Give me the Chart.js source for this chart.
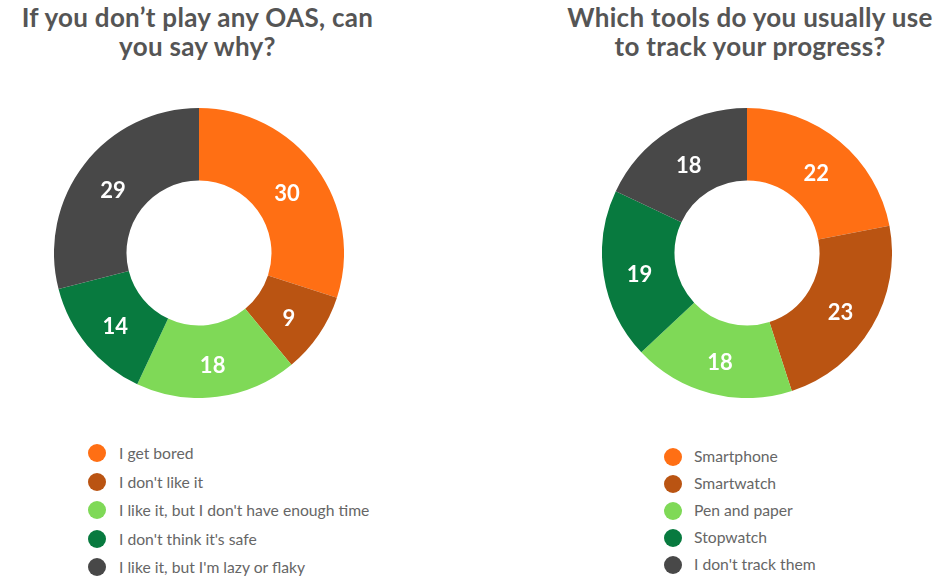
<!DOCTYPE html>
<html>
<head>
<meta charset="utf-8">
<script src="https://cdn.jsdelivr.net/npm/chart.js@4.4.1/dist/chart.umd.min.js"></script>
<style>
  body { margin: 0; background: #fff; font-family: Lato, "Open Sans", sans-serif; }
  #page { position: relative; width: 946px; height: 586px; overflow: hidden; }
  .title {
    position: absolute; top: 3px; margin: 0;
    font-size: 26px; font-weight: bold; line-height: 29px; letter-spacing: 0.3px;
    color: #555; text-align: center; white-space: nowrap;
  }
  canvas { position: absolute; }
  .legend { position: absolute; margin: 0; padding: 0; list-style: none; }
  .legend li { position: relative; font-size: 15.7px; color: #666; white-space: nowrap; }
  .legend .dot {
    position: absolute; left: 0; width: 18px; height: 18px; border-radius: 50%;
    top: 50%; margin-top: -9px;
  }
</style>
</head>
<body>
<div id="page">
  <h2 class="title" style="left:0; width:395px;">If you don’t play any OAS, can<br>you say why?</h2>
  <h2 class="title" style="left:560px; width:380px;">Which tools do you usually use<br>to track your progress?</h2>
  <canvas id="oasChart" width="290" height="290" style="left:54px; top:108px;"></canvas>
  <canvas id="trackChart" width="290" height="290" style="left:602px; top:108px;"></canvas>
  <ul class="legend" id="oasLegend" style="left:88px; top:439px;"></ul>
  <ul class="legend" id="trackLegend" style="left:664px; top:443px;"></ul>
</div>
<script>
const oasLabels = [
  "I get bored",
  "I don't like it",
  "I like it, but I don't have enough time",
  "I don't think it's safe",
  "I like it, but I'm lazy or flaky"
];
const oasValues = [30, 9, 18, 14, 29];

const trackLabels = [
  "Smartphone",
  "Smartwatch",
  "Pen and paper",
  "Stopwatch",
  "I don't track them"
];
const trackValues = [22, 23, 18, 19, 18];

const SLICE_COLORS = ['#FF6F14', '#BA5412', '#7FD957', '#087A3F', '#484848'];

// writes the value in the middle of each slice
const sliceValuePlugin = {
  id: 'sliceValues',
  afterDatasetsDraw(chart) {
    const ctx = chart.ctx;
    const values = chart.data.datasets[0].data;
    chart.getDatasetMeta(0).data.forEach((arc, i) => {
      const p = arc.tooltipPosition();
      ctx.save();
      ctx.fillStyle = '#fff';
      ctx.font = 'bold 22px Lato, sans-serif';
      ctx.textAlign = 'center';
      ctx.textBaseline = 'middle';
      // small nudge down, the numerals sit a bit low in the original
      ctx.fillText(values[i], p.x, p.y + 5);
      ctx.restore();
    });
  }
};

function CreateDoughnut(canvas, labels, values) {
  new Chart(canvas, {
    type: 'doughnut',
    data: {
      labels: labels,
      datasets: [{
        data: values,
        backgroundColor: SLICE_COLORS,
        borderWidth: 0
      }]
    },
    options: {
      responsive: false,
      maintainAspectRatio: false,
      animation: false,
      cutout: '50%',
      events: [],
      plugins: {
        legend: { display: false },
        tooltip: { enabled: false }
      }
    },
    plugins: [sliceValuePlugin]
  });
}

function BuildLegend(list, labels, rowHeight, textOffset) {
  labels.forEach((label, i) => {
    const li = document.createElement('li');
    li.style.height = rowHeight + 'px';
    li.style.lineHeight = rowHeight + 'px';
    li.style.paddingLeft = textOffset + 'px';
    const dot = document.createElement('span');
    dot.className = 'dot';
    dot.style.background = SLICE_COLORS[i];
    li.appendChild(dot);
    li.appendChild(document.createTextNode(label));
    list.appendChild(li);
  });
}

CreateDoughnut(document.getElementById('oasChart'), oasLabels, oasValues);
CreateDoughnut(document.getElementById('trackChart'), trackLabels, trackValues);
BuildLegend(document.getElementById('oasLegend'), oasLabels, 28.5, 31);
BuildLegend(document.getElementById('trackLegend'), trackLabels, 27, 30);
</script>
</body>
</html>
